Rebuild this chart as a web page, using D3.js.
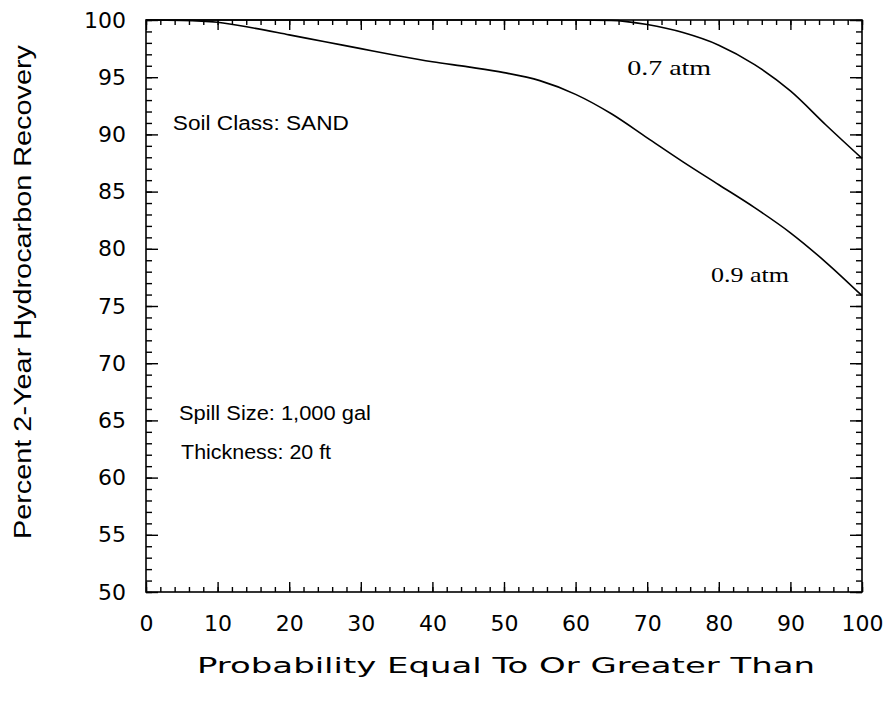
<!DOCTYPE html>
<html>
<head>
<meta charset="utf-8">
<script src="https://cdn.jsdelivr.net/npm/d3@7"></script>
<style>
  html, body { margin: 0; padding: 0; background: #fff; }
  svg { display: block; }
</style>
</head>
<body>
<svg id="chart" width="890" height="716"></svg>
<script>
// ---- data ----
const probability09 = [0, 5, 10, 15, 20, 25, 30, 35, 40, 45, 50, 55, 60, 65, 70, 75, 80, 85, 90, 95, 100];
const recovery09    = [100, 99.97, 99.8, 99.3, 98.7, 98.1, 97.5, 96.9, 96.35, 95.9, 95.4, 94.7, 93.5, 91.8, 89.7, 87.6, 85.6, 83.6, 81.4, 78.8, 75.9];
const probability07 = [0, 10, 20, 30, 40, 50, 60, 65, 70, 75, 80, 85, 90, 95, 100];
const recovery07    = [100, 100, 100, 100, 100, 100, 100, 99.97, 99.6, 98.9, 97.8, 96.1, 93.8, 90.8, 87.9];
const xMajorTicks = [0, 10, 20, 30, 40, 50, 60, 70, 80, 90, 100];
const xMinorTicks = d3.range(0, 101, 2);
const yMajorTicks = [50, 55, 60, 65, 70, 75, 80, 85, 90, 95, 100];
const yMinorTicks = d3.range(50, 101, 1);
const xTitle = "Probability Equal To Or Greater Than";
const yTitle = "Percent 2-Year Hydrocarbon Recovery";
const annotations = [
  { text: "Soil Class: SAND", x: 3.75, y: 90.4, len: 176 },
  { text: "Spill Size: 1,000 gal", x: 4.6, y: 65.0, len: 192 },
  { text: "Thickness: 20 ft", x: 4.9, y: 61.6, len: 150 }
];
const seriesLabels = [
  { text: "0.7 atm", x: 67.2, y: 95.2, len: 84 },
  { text: "0.9 atm", x: 78.9, y: 77.1, len: 78 }
];

// ---- layout ----
const L = 146, R = 862, T = 20, B = 592;
const tickFont = "'DejaVu Sans', Verdana, sans-serif";
const svg = d3.select("#chart");
const x = d3.scaleLinear().domain([0, 100]).range([L, R]);
const y = d3.scaleLinear().domain([50, 100]).range([B, T]);

const axisStyle = g => {
  g.select(".domain").remove();
  g.selectAll(".tick line").attr("stroke", "#000").attr("stroke-width", 1.4);
};

// minor ticks
svg.append("g").attr("transform", `translate(0,${B})`)
  .call(d3.axisBottom(x).tickValues(xMinorTicks).tickSize(-5).tickFormat(""))
  .call(axisStyle);
svg.append("g").attr("transform", `translate(0,${T})`)
  .call(d3.axisTop(x).tickValues(xMinorTicks).tickSize(-5).tickFormat(""))
  .call(axisStyle);
svg.append("g").attr("transform", `translate(${L},0)`)
  .call(d3.axisLeft(y).tickValues(yMinorTicks).tickSize(-6).tickFormat(""))
  .call(axisStyle);
svg.append("g").attr("transform", `translate(${R},0)`)
  .call(d3.axisRight(y).tickValues(yMinorTicks).tickSize(-6).tickFormat(""))
  .call(axisStyle);

// major ticks with labels
svg.append("g").attr("transform", `translate(0,${B})`)
  .call(d3.axisBottom(x).tickValues(xMajorTicks).tickSize(-10).tickPadding(23).tickFormat(d3.format("d")))
  .call(axisStyle)
  .call(g => g.selectAll(".tick text").attr("font-family", tickFont).attr("font-size", 22).attr("fill", "#000"));
svg.append("g").attr("transform", `translate(0,${T})`)
  .call(d3.axisTop(x).tickValues(xMajorTicks).tickSize(-10).tickFormat(""))
  .call(axisStyle);
svg.append("g").attr("transform", `translate(${L},0)`)
  .call(d3.axisLeft(y).tickValues(yMajorTicks).tickSize(-12).tickPadding(20).tickFormat(d3.format("d")))
  .call(axisStyle)
  .call(g => g.selectAll(".tick text").attr("font-family", tickFont).attr("font-size", 22).attr("fill", "#000"));
svg.append("g").attr("transform", `translate(${R},0)`)
  .call(d3.axisRight(y).tickValues(yMajorTicks).tickSize(-12).tickFormat(""))
  .call(axisStyle);

// frame
svg.append("rect").attr("x", L).attr("y", T).attr("width", R - L).attr("height", B - T)
  .attr("fill", "none").attr("stroke", "#000").attr("stroke-width", 1.6);

// curves
const line = d3.line().x(d => x(d[0])).y(d => y(d[1])).curve(d3.curveMonotoneX);
svg.append("path").datum(d3.zip(probability09, recovery09))
  .attr("d", line).attr("fill", "none").attr("stroke", "#000").attr("stroke-width", 1.6);
svg.append("path").datum(d3.zip(probability07, recovery07))
  .attr("d", line).attr("fill", "none").attr("stroke", "#000").attr("stroke-width", 1.6);

// annotations
annotations.forEach(a => {
  svg.append("text").attr("x", x(a.x)).attr("y", y(a.y))
    .attr("font-family", "'Liberation Sans', Arial, sans-serif").attr("font-size", 20)
    .attr("textLength", a.len).attr("lengthAdjust", "spacingAndGlyphs")
    .text(a.text);
});
seriesLabels.forEach(a => {
  svg.append("text").attr("x", x(a.x)).attr("y", y(a.y))
    .attr("font-family", "'Liberation Serif', 'Times New Roman', serif").attr("font-size", 21)
    .attr("textLength", a.len).attr("lengthAdjust", "spacingAndGlyphs")
    .text(a.text);
});

// axis titles
svg.append("text").attr("x", 506).attr("y", 673).attr("text-anchor", "middle")
  .attr("font-family", tickFont).attr("font-size", 22)
  .attr("textLength", 618).attr("lengthAdjust", "spacingAndGlyphs")
  .text(xTitle);
svg.append("text").attr("transform", "translate(31,292) rotate(-90)").attr("text-anchor", "middle")
  .attr("font-family", "'Liberation Sans Narrow', 'Liberation Sans', Arial, sans-serif").attr("font-size", 23)
  .attr("textLength", 494).attr("lengthAdjust", "spacingAndGlyphs")
  .text(yTitle);
</script>
</body>
</html>
